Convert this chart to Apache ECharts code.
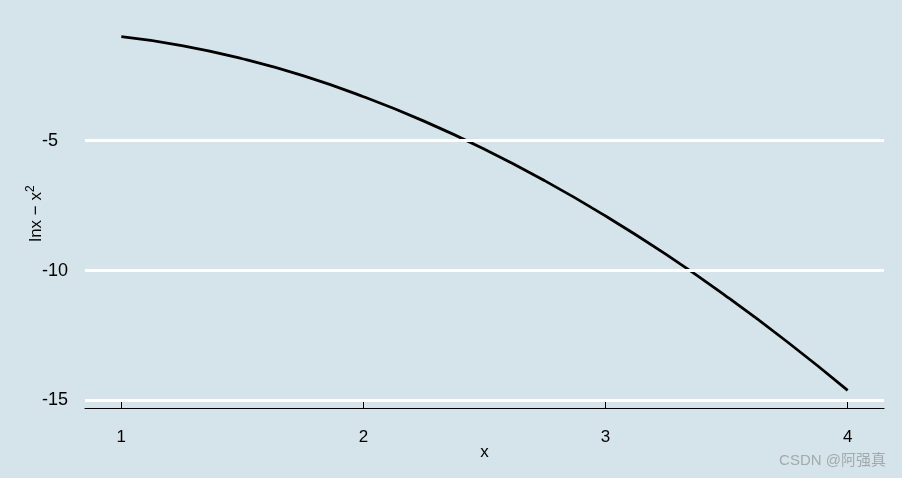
<!DOCTYPE html>
<html><head><meta charset="utf-8">
<script src="https://cdn.jsdelivr.net/npm/echarts@6/dist/echarts.min.js"></script>
<style>html,body{margin:0;padding:0;background:#d5e3ea}#c{width:902px;height:478px}</style>
</head><body><div id="c"></div>
<script>
const xValues = [1, 1.25, 1.5, 1.75, 2, 2.25, 2.5, 2.75, 3, 3.25, 3.5, 3.75, 4];
const yValues = [-1.0, -1.34, -1.85, -2.50, -3.31, -4.25, -5.33, -6.55, -7.90, -9.38, -11.0, -12.74, -14.61];
const xTicks = [1, 2, 3, 4];
const yTicks = [-15, -10, -5];

const chart = echarts.init(document.getElementById('c'));
const font = 'Arial, "Liberation Sans", sans-serif';
chart.setOption({
  backgroundColor: '#d5e3ea',
  animation: false,
  grid: {left: 85, right: 18, top: 19, bottom: 70},
  xAxis: {
    type: 'value', min: 0.85, max: 4.15,
    name: 'x', nameLocation: 'middle', nameGap: 36, nameMoveOverlap: false,
    nameTextStyle: {color: '#000', fontSize: 17, fontFamily: font},
    axisLine: {show: true, onZero: false, lineStyle: {color: '#000', width: 1.2}},
    axisTick: {show: true, inside: true, length: 7, customValues: xTicks, lineStyle: {color: '#000', width: 1}},
    axisLabel: {customValues: xTicks, color: '#000', fontSize: 17, fontFamily: font, margin: 21},
    splitLine: {show: false}
  },
  yAxis: {
    type: 'value', min: -15.29, max: -0.32,
    name: '{a|lnx − x}{s|2}', nameLocation: 'middle', nameGap: 38, nameRotate: 90, nameMoveOverlap: false,
    nameTextStyle: {color: '#000', fontSize: 17, fontFamily: font,
      rich: {a: {fontSize: 17, fontFamily: font, color: '#000'},
             s: {fontSize: 12, fontFamily: font, color: '#000', verticalAlign: 'top', padding: [0,0,10,0]}}},
    axisLine: {show: false}, axisTick: {show: false},
    axisLabel: {customValues: yTicks, color: '#000', fontSize: 18, fontFamily: font, margin: 43, align: 'left'},
    splitLine: {show: false}
  },
  series: [{
    type: 'line', data: xValues.map((x, i) => [x, yValues[i]]),
    smooth: true, symbol: 'none',
    lineStyle: {color: '#000', width: 2.8},
    markLine: {
      silent: true, symbol: 'none', label: {show: false},
      lineStyle: {color: '#fff', width: 2.8, type: 'solid'},
      data: yTicks.map(v => ({yAxis: v}))
    },
    z: 3
  }],
  graphic: [{
    type: 'text', right: 16, bottom: 10,
    style: {text: 'CSDN @阿强真', fill: '#a3aaae', fontSize: 15, fontFamily: 'Arial, "Noto Sans CJK SC", sans-serif'}
  }]
});
</script></body></html>
